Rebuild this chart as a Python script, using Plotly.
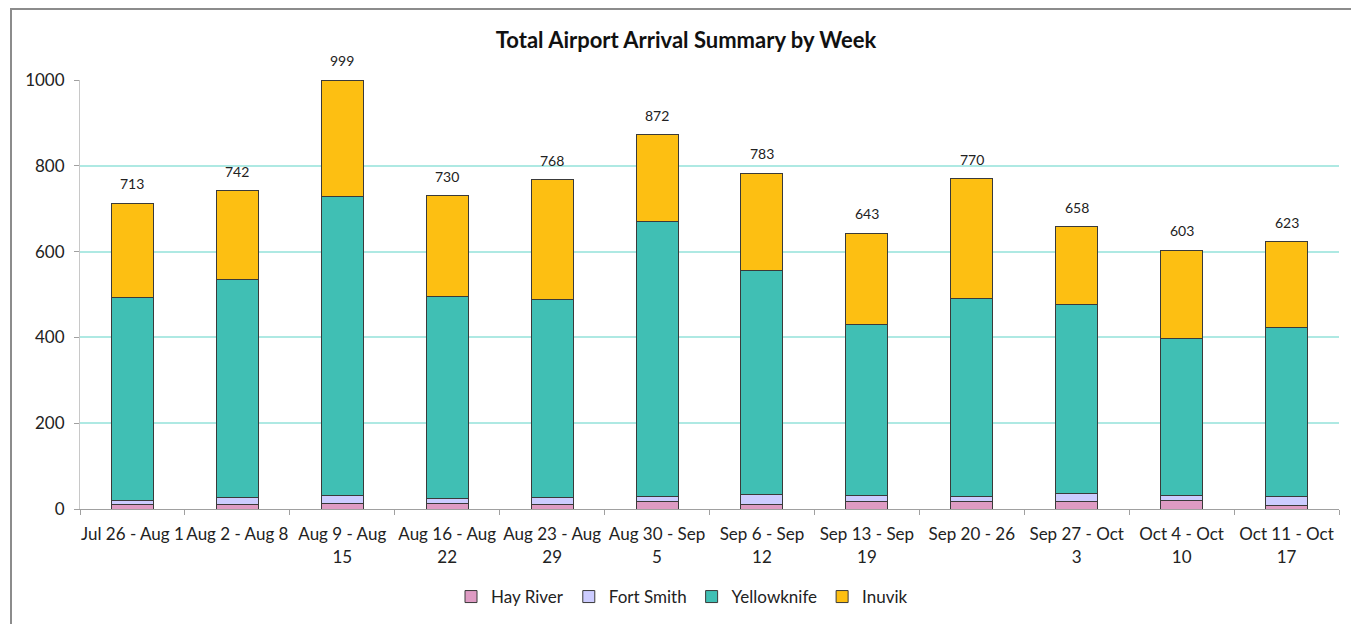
import plotly.graph_objects as go

weeks = ["Jul 26 - Aug 1", "Aug 2 - Aug 8", "Aug 9 - Aug<br>15", "Aug 16 - Aug<br>22",
         "Aug 23 - Aug<br>29", "Aug 30 - Sep<br>5", "Sep 6 - Sep<br>12", "Sep 13 - Sep<br>19",
         "Sep 20 - 26", "Sep 27 - Oct<br>3", "Oct 4 - Oct<br>10", "Oct 11 - Oct<br>17"]
hay_river = [10, 11, 12, 13, 11, 18, 11, 18, 18, 18, 20, 8]
fort_smith = [10, 16, 20, 12, 16, 12, 23, 14, 12, 19, 12, 20]
yellowknife = [474, 507, 696, 471, 461, 641, 522, 398, 461, 440, 366, 396]
inuvik = [219, 208, 271, 234, 280, 201, 227, 213, 279, 181, 205, 199]
totals = [h + f + y + i for h, f, y, i in zip(hay_river, fort_smith, yellowknife, inuvik)]

FONT = "Lato, Open Sans, sans-serif"
outline = dict(color="#3A3A3A", width=1)

# page has an 8px body margin; figure coordinates are page coordinates minus 8
W, H = 1351, 616
L, T, R, B = 72, 72, 20, 115
plot_w = W - L - R
plot_h = H - T - B

fig = go.Figure()
series = [("Hay River", hay_river, "#DE9BC3"),
          ("Fort Smith", fort_smith, "#CCCCFF"),
          ("Yellowknife", yellowknife, "#40BFB4"),
          ("Inuvik", inuvik, "#FDBF12")]
for name, vals, col in series:
    fig.add_trace(go.Bar(name=name, x=weeks, y=vals, marker=dict(color=col, line=outline)))

for w, t in zip(weeks, totals):
    fig.add_annotation(x=w, y=t, text=str(t), showarrow=False, yanchor="bottom", yshift=9,
                       font=dict(size=14, color="#222"))

fig.update_layout(
    barmode="stack", bargap=0.6,
    width=W, height=H,
    margin=dict(l=L, r=R, t=T, b=B, autoexpand=False),
    paper_bgcolor="white", plot_bgcolor="white",
    font=dict(family=FONT, size=17, color="#222"),
    title=dict(text="<b>Total Airport Arrival Summary by Week</b>", x=(686 - 8) / W, xanchor="center",
               y=1 - 32 / H, yanchor="middle", yref="container", automargin=False,
               font=dict(size=22, color="#111", family=FONT)),
    legend=dict(orientation="h", x=(682 - 8 - L) / plot_w, xanchor="center",
                y=-(589 - (H - B)) / plot_h, yanchor="middle",
                font=dict(size=17), traceorder="normal"),
    showlegend=True,
)
fig.update_xaxes(showline=True, linecolor="#A0A0A0", ticks="outside", tickson="boundaries",
                 tickcolor="#A0A0A0", ticklen=5, tickangle=0, tickfont=dict(size=17),
                 ticklabelstandoff=10, automargin=False)
fig.update_yaxes(range=[0, 1000], dtick=200, showgrid=True, gridcolor="#AEE9E3", gridwidth=2,
                 showline=True, linecolor="#C8C8C8", ticks="outside", tickcolor="#A0A0A0",
                 ticklen=5, zeroline=False, tickfont=dict(size=17), ticklabelstandoff=6,
                 automargin=False)

fig.add_shape(type="rect", xref="paper", yref="paper",
              x0=(3 - L) / plot_w, x1=1.2, y0=-0.6, y1=(H - B - 1) / plot_h,
              line=dict(color="#8C8C8C", width=2), layer="below")

fig.write_html("out.html")
